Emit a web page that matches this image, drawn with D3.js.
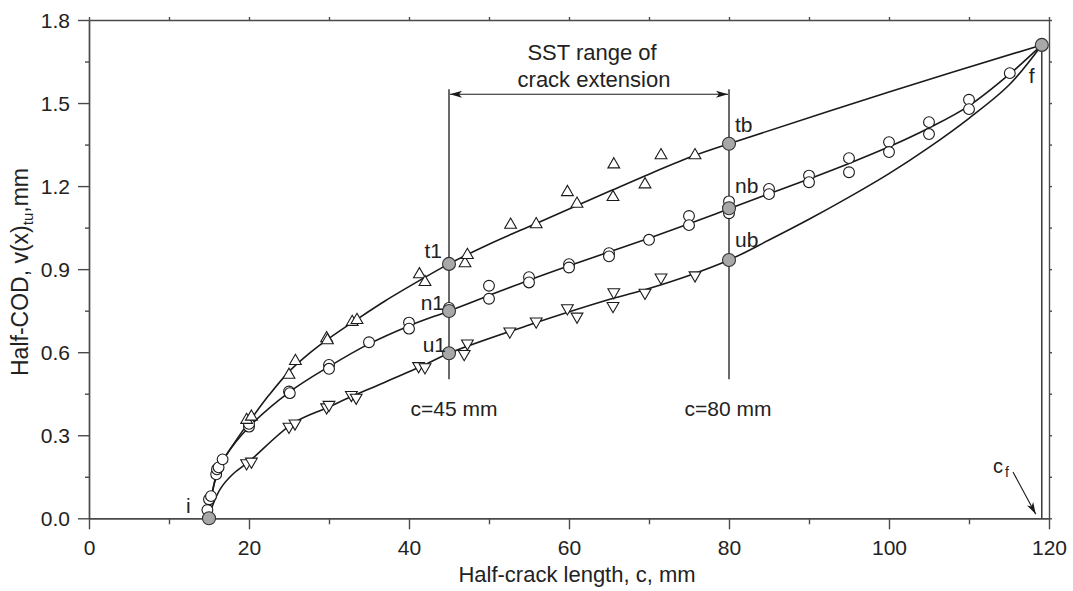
<!DOCTYPE html>
<html>
<head>
<meta charset="utf-8">
<script src="https://cdn.jsdelivr.net/npm/d3@7"></script>
<style>
  html, body { margin: 0; padding: 0; background: #fff; }
  svg { display: block; font-family: "Liberation Sans", Arial, Helvetica, sans-serif; }
</style>
</head>
<body>
<svg id="chart" width="1073" height="591"></svg>
<script>
// Measured half-COD points, tu-loading (up triangles)
const tPoints = [[19.7,0.355],[20.3,0.367],[25.0,0.518],[25.8,0.568],[29.7,0.650],[29.8,0.643],
  [32.9,0.709],[33.5,0.716],[41.3,0.881],[42.0,0.853],[47.0,0.921],[47.3,0.951],[52.7,1.060],
  [55.9,1.062],[59.8,1.178],[61.0,1.136],[65.6,1.278],[65.5,1.160],[69.5,1.206],[71.5,1.311],[75.75,1.311]];
// Measured points, nominal (circles)
const nPoints = [[14.8,0.030],[15.0,0.069],[15.25,0.080],[15.9,0.159],[16.0,0.177],[16.2,0.184],[16.7,0.213],
  [20.0,0.331],[20.0,0.341],[25.0,0.458],[25.1,0.452],[30.0,0.554],[30.0,0.540],[35.0,0.636],
  [40.0,0.707],[40.0,0.685],[45.0,0.760],[50.0,0.840],[50.0,0.793],[55.0,0.871],[55.0,0.852],
  [60.0,0.918],[60.0,0.906],[65.0,0.958],[65.0,0.946],[70.0,1.006],[75.0,1.092],[75.0,1.059],
  [80.0,1.145],[80.0,1.102],[85.0,1.190],[85.0,1.171],[90.0,1.238],[90.0,1.214],[95.0,1.301],[95.0,1.250],
  [100.0,1.359],[100.0,1.323],[105.0,1.431],[105.0,1.388],[110.0,1.512],[110.0,1.478],[115.1,1.608]];
// Measured points, unloading (down triangles)
const uPoints = [[19.7,0.199],[20.3,0.205],[25.0,0.331],[25.75,0.343],[29.7,0.401],[30.0,0.410],
  [32.8,0.446],[33.4,0.436],[41.2,0.550],[42.0,0.546],[46.9,0.594],[47.3,0.632],[52.6,0.675],
  [55.9,0.711],[59.8,0.759],[61.0,0.729],[65.5,0.767],[65.6,0.817],[69.5,0.815],[71.5,0.870],[75.75,0.878]];

// Fitted curves (knots along each trend line)
const tCurve = [[15,0],[15.6,0.12],[16.6,0.2],[18,0.265],[20.3,0.36],[22.5,0.445],[25,0.53],[27.5,0.595],
  [30,0.65],[33.3,0.715],[37,0.785],[41.5,0.862],[45,0.919],[50,0.99],[55.9,1.065],[61,1.13],
  [65.6,1.188],[70,1.243],[75.75,1.311],[80,1.353],[100,1.54],[119.1,1.71]];
const nCurve = [[15,0],[15.3,0.07],[16,0.165],[17,0.222],[20,0.33],[25,0.455],[30,0.548],[35,0.63],
  [40,0.695],[45,0.749],[50,0.805],[55,0.86],[60,0.912],[65,0.962],[70,1.012],[75,1.064],[80,1.118],
  [85,1.172],[90,1.226],[95,1.282],[100,1.342],[105,1.41],[110,1.49],[115.1,1.605],[119.1,1.71]];
const uCurve = [[15,0],[15.5,0.05],[16.5,0.11],[18,0.16],[20,0.205],[25.5,0.343],[29.8,0.4],
  [33.3,0.446],[41.5,0.548],[45,0.596],[55,0.698],[65,0.79],[70,0.83],[75,0.877],[80,0.933],
  [85,1.005],[90,1.08],[95,1.16],[100,1.245],[105,1.34],[110,1.445],[115,1.565],[119.1,1.71]];

// Key states (grey dots)
const keyNames = ["i","t1","n1","u1","tb","nb","ub","f"];
const keyC     = [15, 45, 45, 45, 80, 80, 80, 119.1];
const keyV     = [0, 0.919, 0.749, 0.596, 1.353, 1.120, 0.933, 1.71];

// Axis ticks
const xTicks = [0, 20, 40, 60, 80, 100, 120];
const xMinor = [10, 30, 50, 70, 90, 110];
const yTicks = [0.0, 0.3, 0.6, 0.9, 1.2, 1.5, 1.8];
const yMinor = [0.15, 0.45, 0.75, 1.05, 1.35, 1.65];

// SST range and final crack length
const sstRange = [45, 80];
const cFinal = 119.1;

const svg = d3.select("#chart");
const x = d3.scaleLinear().domain([0, 120]).range([89, 1049]);
const y = d3.scaleLinear().domain([0, 1.8]).range([518.3, 20]);

const axisColor = "#4a4a4a";
const ink = "#1a1a1a";

// frame axes
const gx = svg.append("g").attr("transform", `translate(0,${y(0)})`)
  .call(d3.axisBottom(x).tickValues(xTicks).tickFormat(d3.format("d")).tickSize(11).tickSizeOuter(0));
svg.append("g").attr("transform", `translate(0,${y(0)})`)
  .call(d3.axisBottom(x).tickValues(xMinor).tickFormat("").tickSize(6).tickSizeOuter(0));
const gy = svg.append("g").attr("transform", `translate(${x(0)},0)`)
  .call(d3.axisLeft(y).tickValues(yTicks).tickFormat(d3.format(".1f")).tickSize(11).tickSizeOuter(0));
svg.append("g").attr("transform", `translate(${x(0)},0)`)
  .call(d3.axisLeft(y).tickValues(yMinor).tickFormat("").tickSize(4).tickSizeOuter(0));
svg.append("g").attr("transform", `translate(0,${y(1.8)})`)
  .call(d3.axisTop(x).tickValues(xTicks.concat(xMinor)).tickFormat("").tickSize(3).tickSizeOuter(0));
svg.append("g").attr("transform", `translate(${x(120)},0)`)
  .call(d3.axisRight(y).tickValues(yTicks.concat(yMinor)).tickFormat("").tickSize(3).tickSizeOuter(0));

svg.selectAll(".domain, .tick line").attr("stroke", axisColor).attr("stroke-width", 1.4);
svg.selectAll(".tick text").attr("fill", "#222").attr("font-size", 21)
  .attr("font-family", "'Liberation Sans', Arial, sans-serif");
gx.selectAll(".tick text").attr("dy", null).attr("y", 37);
gy.selectAll(".tick text").attr("x", -19).attr("dy", "0.36em");

// axis titles
svg.append("text").attr("x", 577).attr("y", 582).attr("text-anchor", "middle")
  .attr("font-size", 22).attr("fill", "#222").text("Half-crack length, c, mm");
const yt = svg.append("text").attr("transform", `translate(28,272) rotate(-90)`)
  .attr("text-anchor", "middle").attr("font-size", 23).attr("fill", "#222");
yt.append("tspan").text("Half-COD, v(x)");
yt.append("tspan").attr("font-size", 15).attr("dy", 5).text("tu");
yt.append("tspan").attr("dy", -5).text(",mm");

// SST range markers
svg.selectAll("line.sst").data(sstRange).join("line").attr("class", "sst")
  .attr("x1", d => x(d)).attr("x2", d => x(d))
  .attr("y1", y(1.55)).attr("y2", y(0.502))
  .attr("stroke", ink).attr("stroke-width", 1.3);

const defs = svg.append("defs");
defs.append("marker").attr("id", "ah").attr("viewBox", "0 -4 12 8")
  .attr("refX", 12).attr("refY", 0).attr("markerWidth", 12).attr("markerHeight", 8)
  .attr("markerUnits", "userSpaceOnUse").attr("orient", "auto-start-reverse")
  .append("path").attr("d", "M0,-3.5L12,0L0,3.5L3,0Z").attr("fill", ink);

svg.append("line")
  .attr("x1", x(sstRange[0]) + 1).attr("x2", x(sstRange[1]) - 1)
  .attr("y1", y(1.532)).attr("y2", y(1.532))
  .attr("stroke", ink).attr("stroke-width", 1.1)
  .attr("marker-start", "url(#ah)").attr("marker-end", "url(#ah)");

const midC = (sstRange[0] + sstRange[1]) / 2;
svg.append("text").attr("x", x(midC) + 3).attr("y", 60).attr("text-anchor", "middle")
  .attr("font-size", 22).attr("fill", "#222").text("SST range of");
svg.append("text").attr("x", x(midC) + 5).attr("y", 87).attr("text-anchor", "middle")
  .attr("font-size", 22).attr("fill", "#222").text("crack extension");

svg.append("text").attr("x", x(sstRange[0]) + 5).attr("y", 416).attr("text-anchor", "middle")
  .attr("font-size", 21).attr("fill", "#222").text(`c=${sstRange[0]} mm`);
svg.append("text").attr("x", x(sstRange[1]) - 1).attr("y", 416).attr("text-anchor", "middle")
  .attr("font-size", 21).attr("fill", "#222").text(`c=${sstRange[1]} mm`);

// final crack length marker
svg.append("line").attr("x1", x(cFinal)).attr("x2", x(cFinal))
  .attr("y1", y(1.71)).attr("y2", y(0))
  .attr("stroke", ink).attr("stroke-width", 1.3);
const cf = svg.append("text").attr("x", 993).attr("y", 473).attr("font-size", 20).attr("fill", "#222");
cf.append("tspan").text("c");
cf.append("tspan").attr("font-size", 14).attr("dy", 4).attr("dx", 2).text("f");
svg.append("line").attr("x1", 1013).attr("y1", 472).attr("x2", x(cFinal) - 6).attr("y2", y(0) - 4)
  .attr("stroke", ink).attr("stroke-width", 1.1).attr("marker-end", "url(#ah)");

// fitted curves
const line = d3.line().x(d => x(d[0])).y(d => y(d[1])).curve(d3.curveCatmullRom.alpha(0.5));
[tCurve, nCurve, uCurve].forEach(c => {
  svg.append("path").datum(c).attr("d", line)
    .attr("fill", "none").attr("stroke", ink).attr("stroke-width", 1.6);
});

// measured points
const triUp = d3.symbol().type(d3.symbolTriangle).size(60);
const markerStyle = sel => sel.attr("fill", "#fff").attr("stroke", ink).attr("stroke-width", 1.1);

svg.append("g").selectAll("circle").data(nPoints).join("circle")
  .attr("cx", d => x(d[0])).attr("cy", d => y(d[1])).attr("r", 5.4).call(markerStyle);
svg.append("g").selectAll("path").data(tPoints).join("path")
  .attr("d", triUp).attr("transform", d => `translate(${x(d[0])},${y(d[1])})`).call(markerStyle);
svg.append("g").selectAll("path").data(uPoints).join("path")
  .attr("d", triUp).attr("transform", d => `translate(${x(d[0])},${y(d[1])}) rotate(180)`).call(markerStyle);

// key states
svg.append("g").selectAll("circle").data(keyNames).join("circle")
  .attr("cx", (d, i) => x(keyC[i])).attr("cy", (d, i) => y(keyV[i])).attr("r", 6.5)
  .attr("fill", "#a8a8a8").attr("stroke", "#333").attr("stroke-width", 1.1);

const labelOffset = {
  i:  {dx: -23, dy: -5, a: "start"},
  t1: {dx: -7, dy: -6, a: "end"},
  n1: {dx: -5, dy: -1, a: "end"},
  u1: {dx: -3, dy: -1, a: "end"},
  tb: {dx: 6, dy: -12, a: "start"},
  nb: {dx: 6, dy: -15, a: "start"},
  ub: {dx: 6, dy: -13, a: "start"},
  f:  {dx: -13, dy: 38, a: "start"}
};
svg.append("g").selectAll("text").data(keyNames).join("text")
  .attr("x", (d, i) => x(keyC[i]) + labelOffset[d].dx)
  .attr("y", (d, i) => y(keyV[i]) + labelOffset[d].dy)
  .attr("text-anchor", d => labelOffset[d].a)
  .attr("font-size", 21).attr("fill", "#222").text(d => d);
</script>
</body>
</html>
